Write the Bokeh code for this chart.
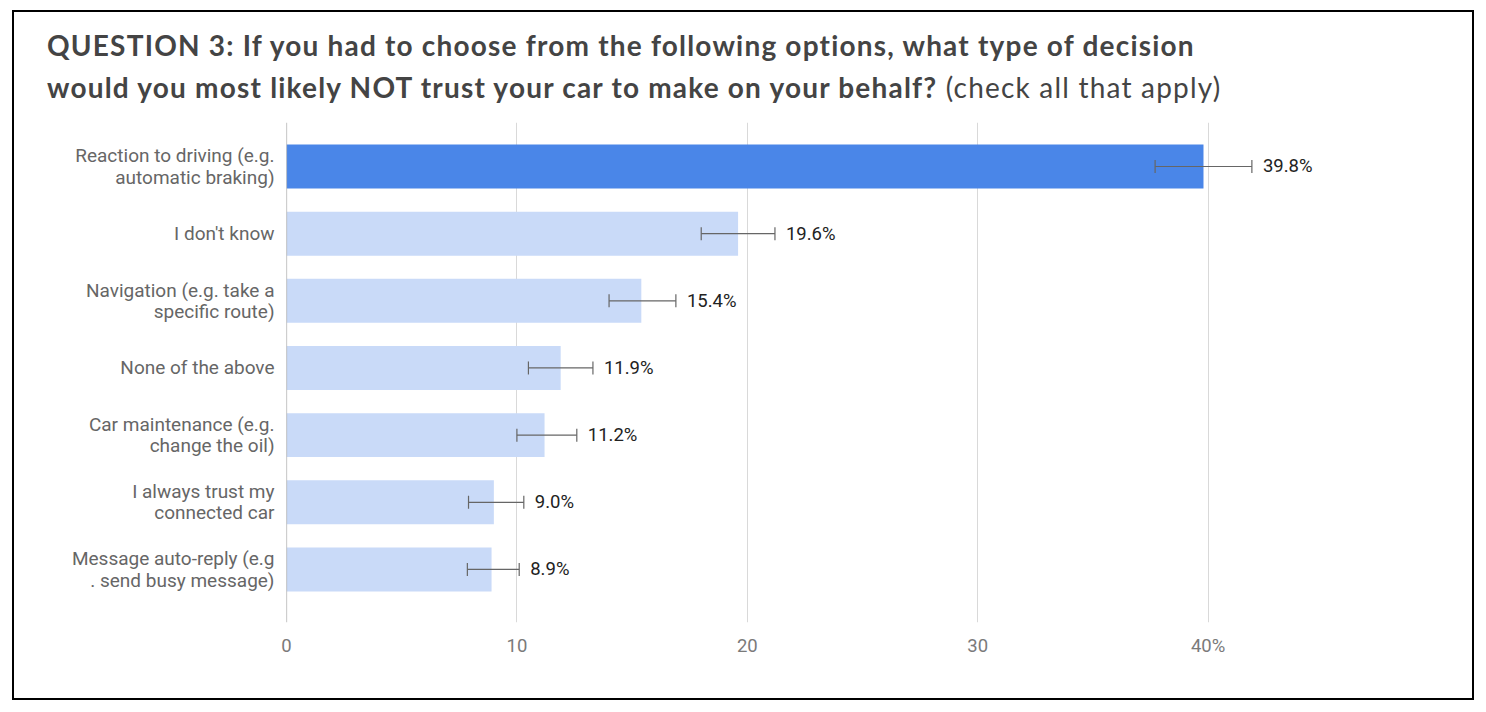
from bokeh.plotting import figure
from bokeh.layouts import column
from bokeh.models import (Range1d, FixedTicker, Whisker, ColumnDataSource, Span, TeeHead, Div)
from bokeh.core.properties import value
from bokeh.embed import file_html
from bokeh.resources import INLINE

title_line1 = "QUESTION 3: If you had to choose from the following options, what type of decision"
title_line2 = "would you most likely NOT trust your car to make on your behalf?"
title_note = "(check all that apply)"

categories = [
    "Reaction to driving (e.g.\nautomatic braking)",
    "I don't know",
    "Navigation (e.g. take a\nspecific route)",
    "None of the above",
    "Car maintenance (e.g.\nchange the oil)",
    "I always trust my\nconnected car",
    "Message auto-reply (e.g\n. send busy message)",
]
values = [39.8, 19.6, 15.4, 11.9, 11.2, 9.0, 8.9]
err_low = [37.7, 18.0, 14.0, 10.5, 10.0, 7.9, 7.85]
err_high = [41.9, 21.2, 16.9, 13.3, 12.6, 10.3, 10.1]
value_labels = ["39.8%", "19.6%", "15.4%", "11.9%", "11.2%", "9.0%", "8.9%"]
x_ticks = [0, 10, 20, 30, 40]
x_tick_labels = ["0", "10", "20", "30", "40%"]

pos = list(range(len(categories)))
colors = ["#4a86e8"] + ["#c9daf8"] * (len(categories) - 1)

src = ColumnDataSource(dict(y=pos, v=values, lo=err_low, hi=err_high,
                            lab=value_labels, c=colors))

W = 1458
DIV_H = 100
H = 686 - DIV_H
p = figure(width=W, height=H, output_backend="svg", toolbar_location=None,
           x_range=Range1d(0, 50), y_range=Range1d(6.79, -0.655),
           min_border_left=272, min_border_right=34, min_border_top=10,
           min_border_bottom=76)
p.margin = 0
p.outline_line_color = None
p.background_fill_color = "white"

p.hbar(y="y", right="v", left=0, height=0.655, fill_color="c", line_color=None, source=src)

w = Whisker(base="y", lower="lo", upper="hi", dimension="width", source=src,
            line_color="#666666", line_width=1.2, level="overlay",
            upper_head=TeeHead(size=13, line_color="#666666", line_width=1.2),
            lower_head=TeeHead(size=13, line_color="#666666", line_width=1.2))
p.add_layout(w)

p.text(x="hi", y="y", text="lab", source=src, x_offset=11,
       text_font=value("Roboto"), text_font_size="18.5px", text_color="#222222",
       text_baseline="middle", text_align="left")

p.add_layout(Span(location=0, dimension="height", line_color="#9e9e9e", line_width=1.2))

p.xaxis.ticker = FixedTicker(ticks=x_ticks)
p.xaxis.major_label_overrides = {t: l for t, l in zip(x_ticks, x_tick_labels)}
p.yaxis.ticker = FixedTicker(ticks=pos)
p.yaxis.major_label_overrides = {i: c for i, c in zip(pos, categories)}
for ax in (p.xaxis, p.yaxis):
    ax.axis_line_color = None
    ax.major_tick_line_color = None
    ax.minor_tick_line_color = None
    ax.major_label_text_font = "Roboto"
    ax.major_label_text_font_size = "18.5px"
p.yaxis.major_label_text_font_size = "19px"
p.xaxis.major_label_text_color = "#7a7a7a"
p.yaxis.major_label_text_color = "#666666"
p.xaxis.major_label_standoff = 6
p.yaxis.major_label_standoff = 6
p.yaxis.major_label_text_line_height = 0.92
p.ygrid.grid_line_color = None
p.xgrid.ticker = FixedTicker(ticks=x_ticks)
p.xgrid.grid_line_color = "#d9d9d9"
p.xgrid.grid_line_width = 1

inner_style = ("font-family: Lato; font-size: 28px; color: #444444; line-height: 42px; "
               "letter-spacing: 1.2px; padding-left: 33px; padding-top: 12px; white-space: nowrap;")
div = Div(
    text=(f'<div style="{inner_style}"><b>{title_line1}</b><br>'
          f'<b>{title_line2}</b> {title_note}</div>'),
    width=W, height=DIV_H,
    styles={"overflow": "visible", "background": "white"},
)
div.margin = 0

layout = column(div, p, spacing=0)
layout.margin = (10, 0, 0, 12)
layout.styles = {"border": "2px solid black", "background": "white"}

open("out.html", "w").write(file_html(layout, INLINE))
